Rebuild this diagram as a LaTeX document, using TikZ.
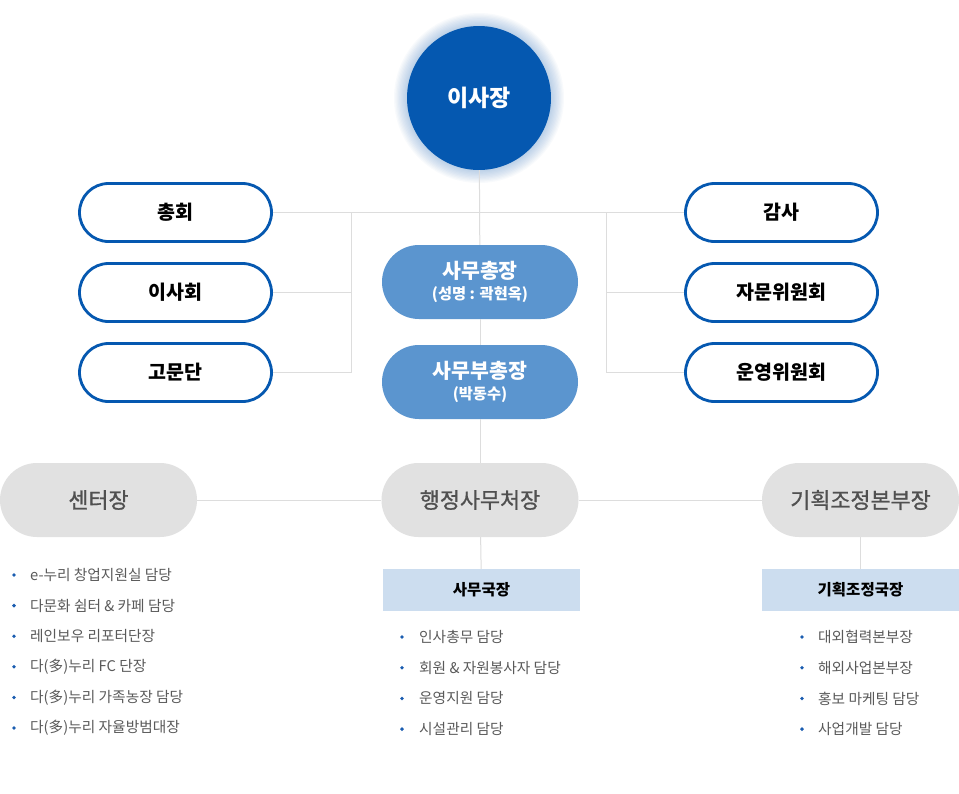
\documentclass[tikz,border=0pt]{standalone}
\usepackage{fontspec}
\setmainfont{Noto Sans CJK KR}
\newfontfamily\medfont[FakeBold=1]{Noto Sans CJK KR}
\usetikzlibrary{positioning}

\definecolor{chairblue}{HTML}{0558B0}
\definecolor{secblue}{HTML}{5B95CF}
\definecolor{pillgrey}{HTML}{E1E1E1}
\definecolor{linegrey}{HTML}{DDDDDD}
\definecolor{textgrey}{HTML}{505050}
\definecolor{itemgrey}{HTML}{5A5A5A}
\definecolor{officeblue}{HTML}{CCDDEF}
\definecolor{bulletblue}{HTML}{1A5CB0}

\tikzset{
  chair/.style={circle, fill=chairblue, minimum size=144pt, inner sep=0pt,
    text=white, font=\bfseries\fontsize{23}{27}\selectfont},
  council/.style={rectangle, draw=chairblue, line width=2.8pt, fill=white,
    rounded corners=29pt, minimum width=192pt, minimum height=58pt,
    font=\bfseries\fontsize{19.5}{23}\selectfont},
  secretariat/.style={rectangle, fill=secblue, rounded corners=37pt,
    minimum width=196pt, minimum height=74pt, text=white, align=center,
    font=\bfseries\fontsize{20.5}{25}\selectfont},
  division/.style={rectangle, fill=pillgrey, rounded corners=37pt,
    minimum width=197pt, minimum height=74pt, text=textgrey,
    font=\medfont\fontsize{21.8}{26}\selectfont},
  office/.style={rectangle, fill=officeblue, minimum width=197pt,
    minimum height=42pt, font=\bfseries\fontsize{15.5}{19}\selectfont},
  item/.style={anchor=west, inner sep=0pt, text=itemgrey,
    font=\fontsize{14.7}{18}\selectfont},
  link/.style={draw=linegrey, line width=1pt}
}

\begin{document}
\begin{tikzpicture}[x=1pt,y=-1pt]
    % Definitions
    \fill[white] (0,0) rectangle (959,793);
    \useasboundingbox (0,0) rectangle (959,793);
    \coordinate (PresC)  at (479,98);
    \coordinate (LJoin)  at (351,213);
    \coordinate (RJoin)  at (606,213);
    % Halo round the chair
    \foreach \i in {1,...,10}
        \fill[chairblue, opacity=0.028] (PresC) circle ({72+\i*1.3});
    % Nodes
    \node[chair] (Pres) at (PresC) {이사장};
    \node[council] (Assembly) at (175.5,212.5) {총회};
    \node[council] (Board)    at (175.5,292.5) {이사회};
    \node[council] (Advisors) at (175.5,372.5) {고문단};
    \node[council] (Audit)    at (781.5,212.5) {감사};
    \node[council] (Consult)  at (781.5,292.5) {자문위원회};
    \node[council] (Steering) at (781.5,372.5) {운영위원회};
    \node[secretariat] (SecGen) at (480,282)
        {사무총장\\[-4pt]{\fontsize{15.3}{18}\selectfont (성명 : 곽현옥)}};
    \node[secretariat] (DepSec) at (480,382)
        {사무부총장\\[-4pt]{\fontsize{15.3}{18}\selectfont (박동수)}};
    \node[division] (Center) at (98.5,500)  {센터장};
    \node[division] (Admin)  at (480,500)   {행정사무처장};
    \node[division] (Plan)   at (860.5,500) {기획조정본부장};
    \node[office] (Office)  at (481.5,590) {사무국장};
    \node[office] (PlanOff) at (860.5,590) {기획조정국장};
    % Connectors
    \draw[link] (Pres) -- (SecGen);
    \draw[link] (SecGen) -- (DepSec);
    \draw[link] (DepSec) -- (Admin);
    \draw[link] (Assembly.east) -- (Audit.west);
    \draw[link] (LJoin) |- (Advisors.east);
    \draw[link] (Board.east) -- (Board.east -| LJoin);
    \draw[link] (RJoin) |- (Steering.west);
    \draw[link] (Consult.west) -- (Consult.west -| RJoin);
    \draw[link] (Center.east) -- (Admin.west);
    \draw[link] (Admin.east) -- (Plan.west);
    \draw[link] (Admin) -- (Office);
    \draw[link] (Plan) -- (PlanOff);
    % Lists
    \foreach \t [count=\i] in {e-누리 창업지원실 담당, 다문화 쉼터 \& 카페 담당,
        레인보우 리포터단장, 다(多)누리 FC 단장, 다(多)누리 가족농장 담당,
        다(多)누리 자율방범대장} {
        \fill[bulletblue] (14,{575+30.6*(\i-1)}) circle (1.9);
        \node[item] (C\i) at (30,{575+30.6*(\i-1)}) {\t};
    }
    \foreach \t [count=\i] in {인사총무 담당, 회원 \& 자원봉사자 담당,
        운영지원 담당, 시설관리 담당} {
        \fill[bulletblue] (402,{637+30.7*(\i-1)}) circle (1.9);
        \node[item] (O\i) at (419,{637+30.7*(\i-1)}) {\t};
    }
    \foreach \t [count=\i] in {대외협력본부장, 해외사업본부장,
        홍보 마케팅 담당, 사업개발 담당} {
        \fill[bulletblue] (802,{637+30.7*(\i-1)}) circle (1.9);
        \node[item] (P\i) at (818,{637+30.7*(\i-1)}) {\t};
    }
\end{tikzpicture}
\end{document}
